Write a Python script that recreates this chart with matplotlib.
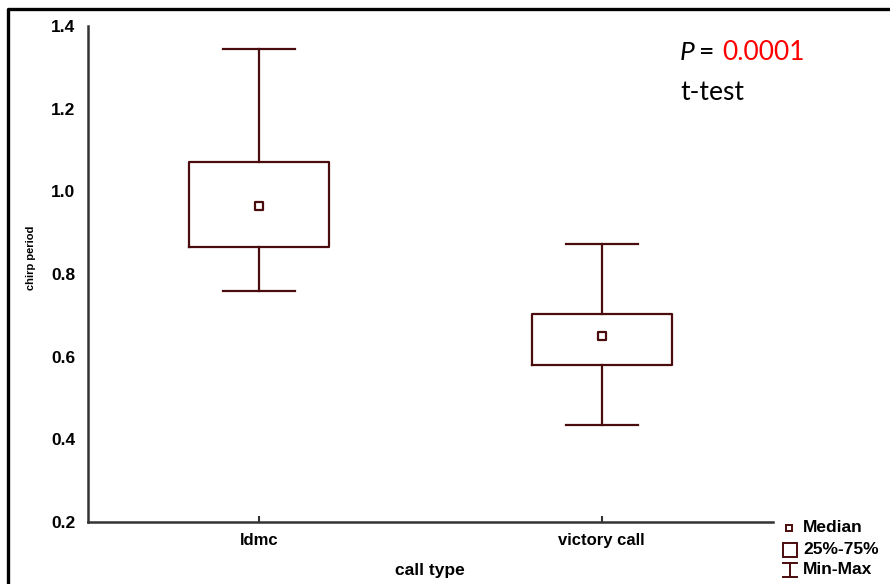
import matplotlib
matplotlib.use("Agg")
import matplotlib.pyplot as plt
from matplotlib.lines import Line2D
from matplotlib.patches import Rectangle

# Chirp period summary per call type
categories = ["ldmc", "victory call"]
medians = [0.964, 0.650]
q1 = [0.865, 0.580]
q3 = [1.071, 0.703]
mins = [0.759, 0.435]
maxs = [1.344, 0.872]
yticks = [0.2, 0.4, 0.6, 0.8, 1.0, 1.2, 1.4]

W, H = 890, 584
fig = plt.figure(figsize=(W / 100, H / 100), dpi=100)
fig.patch.set_facecolor("white")

ax = fig.add_axes([88 / W, 1 - 522 / H, (773 - 88) / W, (522 - 26) / H])

box_color = "#4a0c0c"
stats = [
    dict(med=m, q1=a, q3=b, whislo=lo, whishi=hi, fliers=[], label=c)
    for c, m, a, b, lo, hi in zip(categories, medians, q1, q3, mins, maxs)
]
ax.bxp(
    stats, positions=range(len(categories)), widths=0.41, capwidths=0.21,
    showfliers=False, patch_artist=False,
    boxprops=dict(color=box_color, linewidth=1.6),
    whiskerprops=dict(color=box_color, linewidth=1.6),
    capprops=dict(color=box_color, linewidth=1.6),
    medianprops=dict(linewidth=0),
)
ax.scatter(range(len(categories)), medians, marker="s", s=38, facecolor="white",
           edgecolor=box_color, linewidth=1.6, zorder=5)

ax.set_xlim(-0.5, 1.5)
ax.set_ylim(0.2, 1.4)
ax.set_yticks(yticks)
ax.set_yticklabels([f"{t:.1f}" for t in yticks])
ax.set_xticks(range(len(categories)))
ax.set_xticklabels(categories)

for side in ("top", "right"):
    ax.spines[side].set_visible(False)
for side in ("left", "bottom"):
    ax.spines[side].set_color("#333333")
    ax.spines[side].set_linewidth(1.8)

ax.tick_params(axis="y", length=0, pad=9, labelsize=12.5)
ax.tick_params(axis="x", length=4, width=1.5, direction="in", color="#333333",
               pad=8, labelsize=12)
for lab in ax.get_xticklabels() + ax.get_yticklabels():
    lab.set_fontfamily("Liberation Sans")
    lab.set_fontweight("bold")

fig.text(31 / W, 1 - 258 / H, "chirp period", rotation=90, ha="center", va="center",
         fontsize=8, fontweight="semibold", family="Liberation Sans")
fig.text(430 / W, 1 - 570 / H, "call type", ha="center", va="center",
         fontsize=12.5, fontweight="bold", family="Liberation Sans")

# Annotation
fig.text(680 / W, 1 - 52 / H, "P", ha="left", va="center", fontsize=19,
         family="Lato", style="italic")
fig.text(699 / W, 1 - 52 / H, "=", ha="left", va="center", fontsize=19, family="Lato")
fig.text(722 / W, 1 - 52 / H, "0.0001", ha="left", va="center", fontsize=19,
         family="Lato", color="#ff0000")
fig.text(680 / W, 1 - 93 / H, "t-test", ha="left", va="center", fontsize=19,
         family="Lato")


def px(x, y):
    return x / W, 1 - y / H


# Legend key
fig.add_artist(Rectangle(px(786, 531), 6 / W, 6 / H, transform=fig.transFigure,
                         facecolor="white", edgecolor=box_color, linewidth=1.4))
fig.add_artist(Rectangle(px(783, 557), 14 / W, 14 / H, transform=fig.transFigure,
                         facecolor="white", edgecolor=box_color, linewidth=1.4))
for (xa, ya), (xb, yb) in [((783, 563), (797, 563)), ((783, 577), (797, 577)),
                           ((790, 563), (790, 577))]:
    fig.add_artist(Line2D([xa / W, xb / W], [1 - ya / H, 1 - yb / H],
                          transform=fig.transFigure, color=box_color, linewidth=1.4))
for label, y in [("Median", 528), ("25%-75%", 549), ("Min-Max", 570)]:
    fig.text(803 / W, 1 - y / H, label, ha="left", va="center", fontsize=12.5,
             fontweight="bold", family="Liberation Sans")

# Outer frame (top and left edges)
fig.add_artist(Line2D([8 / W, 8 / W, 1.0], [0.0, 1 - 9 / H, 1 - 9 / H],
                      transform=fig.transFigure, color="black", linewidth=2.4))

fig.savefig("out.png", dpi=100, facecolor="white")
